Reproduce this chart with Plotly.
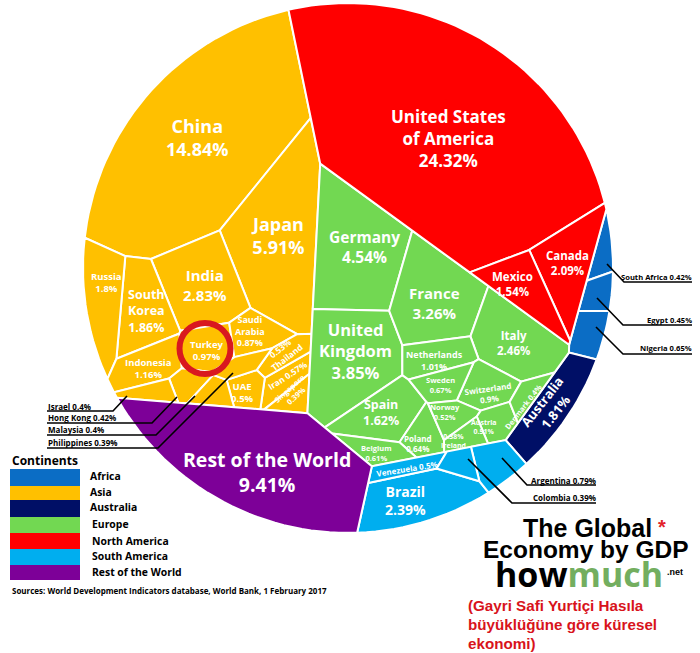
import math
import plotly.graph_objects as go

# ---------- data (share of world GDP, %) ----------
asia_names = ["China","Japan","India","South Korea","Russia","Indonesia","Turkey","Saudi Arabia","Iran","Thailand","UAE","Hong Kong","Israel","Malaysia","Philippines","Singapore"]
asia_values = [14.84,5.91,2.83,1.86,1.8,1.16,0.97,0.87,0.57,0.53,0.5,0.42,0.4,0.4,0.39,0.39]
europe_names = ["Germany","United Kingdom","France","Italy","Spain","Netherlands","Switzerland","Sweden","Poland","Belgium","Norway","Austria","Denmark","Ireland"]
europe_values = [4.54,3.85,3.26,2.46,1.62,1.01,0.9,0.67,0.64,0.61,0.52,0.51,0.4,0.38]
namerica_names = ["United States of America","Canada","Mexico"]
namerica_values = [24.32,2.09,1.54]
samerica_names = ["Brazil","Argentina","Venezuela","Colombia"]
samerica_values = [2.39,0.79,0.5,0.39]
africa_names = ["South Africa","Egypt","Nigeria"]
africa_values = [0.42,0.45,0.65]
australia_names = ["Australia"]
australia_values = [1.81]
rest_names = ["Rest of the World"]
rest_values = [9.41]
continent_names = ["Africa","Asia","Australia","Europe","North America","South America","Rest of the World"]

# ---------- layout hints for the weighted-Voronoi treemap ----------
W, H = 700, 653
CX, CY, R = 348, 268, 265
COLORS = {"Africa":"#0B6DC5","Asia":"#FFC000","Australia":"#000F66","Europe":"#72D852",
          "North America":"#FF0000","South America":"#00AEEF","Rest of the World":"#7D0098"}
continent_sites = {"Africa":(809,250),"Asia":(190,229),"Australia":(755,467),"Europe":(444,242),
                   "North America":(500,165),"South America":(527,666),"Rest of the World":(161,585)}
sites = {
 "China":(175,140),"Japan":(286,230),"India":(223,255),"South Korea":(159,281),"Russia":(113,277),
 "Indonesia":(167,301),"Turkey":(230,297),"Saudi Arabia":(250,294),"Iran":(302,386),"Thailand":(290,365),
 "UAE":(274,382),"Hong Kong":(221,368),"Israel":(187,381),"Malaysia":(245,390),"Philippines":(262,345),"Singapore":(317,405),
 "Germany":(345,250),"United Kingdom":(343,330),"France":(463,284),"Italy":(530,308),"Spain":(405,422),
 "Netherlands":(469,330),"Switzerland":(496,372),"Sweden":(478,364),"Poland":(420,432),"Belgium":(401,453),
 "Norway":(482,405),"Austria":(512,425),"Denmark":(557,407),"Ireland":(500,430),
 "United States of America":(470,170),"Canada":(562,318),"Mexico":(531,332),
 "Brazil":(432,555),"Argentina":(561,451),"Venezuela":(410,450),"Colombia":(455,477),
 "South Africa":(585,268),"Egypt":(597,302),"Nigeria":(597,340),"Australia":(550,410),"Rest of the World":(250,465)}

# label: text, x, y, size, angle
P = lambda n, v: f"{n}<br>{v}%"
val = dict(zip(asia_names+europe_names+namerica_names+samerica_names+africa_names+australia_names+rest_names,
               asia_values+europe_values+namerica_values+samerica_values+africa_values+australia_values+rest_values))
labels = [
 ("United States<br>of America<br>%s%%"%val["United States of America"],448,138,17,0),
 (P("China",val["China"]),197,137,18,0),(P("Japan",val["Japan"]),278,235,18,0),
 (P("Germany",val["Germany"]),364,247,15.5,0),(P("France",val["France"]),434,303,15,0),
 ("United<br>Kingdom<br>%s%%"%val["United Kingdom"],355,351,16.5,0),(P("India",val["India"]),205,285,15,0),
 ("South<br>Korea<br>%s%%"%val["South Korea"],146,311,12.5,0),(P("Russia",val["Russia"]),106,282,9.5,0),
 (P("Indonesia",val["Indonesia"]),148,368,9.5,0),(P("Turkey",val["Turkey"]),207,350,9.5,0),
 ("Saudi<br>Arabia<br>%s%%"%val["Saudi Arabia"],250,331,9,0),
 ("%s%%<br>Thailand"%val["Thailand"],283,353,8.5,-38),("Iran %s%%"%val["Iran"],287,375,8.5,-33),
 (P("Singapore",val["Singapore"]),293,392,7.5,-42),(P("UAE",val["UAE"]),242,392,9.5,0),
 (P("Spain",val["Spain"]),381,412,12.5,0),(P("Italy",val["Italy"]),513,343,11.5,0),
 (P("Netherlands",val["Netherlands"]),434,360,9,0),(P("Sweden",val["Sweden"]),440,385,7.5,0),
 (P("Switzerland",val["Switzerland"]),488,393,8,-8),("Denmark %s%%"%val["Denmark"],523,407,7.5,-52),
 (P("Norway",val["Norway"]),445,412,7.5,0),(P("Austria",val["Austria"]),484,427,7,0),
 ("%s%%<br>Ireland"%val["Ireland"],453,441,7,0),(P("Poland",val["Poland"]),418,443,8,0),
 (P("Belgium",val["Belgium"]),376,453,7.5,0),("Venezuela %s%%"%val["Venezuela"],407,468,8,-9),
 (P("Brazil",val["Brazil"]),405,500,14,0),(P("Australia",val["Australia"]),548,407,13,-52),
 (P("Canada",val["Canada"]),567,263,11.5,0),(P("Mexico",val["Mexico"]),512,284,11.5,0),
 (P("Rest of the World",val["Rest of the World"]),267,472,19.5,0),
]

# ---------- power-diagram solver: cell areas follow the values ----------
def clip(poly, a, b, c):
    out = []
    n = len(poly)
    for k in range(n):
        p, q = poly[k], poly[(k+1) % n]
        fp = a*p[0]+b*p[1]-c
        fq = a*q[0]+b*q[1]-c
        if fp <= 0:
            out.append(p)
        if (fp < 0 < fq) or (fq < 0 < fp):
            t = fp/(fp-fq)
            out.append((p[0]+t*(q[0]-p[0]), p[1]+t*(q[1]-p[1])))
    return out

def area(poly):
    s = 0.0
    for k in range(len(poly)):
        p, q = poly[k], poly[(k+1) % len(poly)]
        s += p[0]*q[1]-q[0]*p[1]
    return abs(s)/2

def cells(region, pts, wts):
    res = []
    for i, si in enumerate(pts):
        poly = region
        for j, sj in enumerate(pts):
            if i == j or not poly:
                continue
            a = 2*(sj[0]-si[0]); b = 2*(sj[1]-si[1])
            c = sj[0]**2+sj[1]**2-si[0]**2-si[1]**2-wts[j]+wts[i]
            poly = clip(poly, a, b, c)
        res.append(poly)
    return res

def solve(region, pts, values, iters=700):
    total = area(region)
    targets = [total*v/sum(values) for v in values]
    wts = [0.0]*len(pts)
    steps = []
    for i, si in enumerate(pts):
        d = min(math.dist(si, sj) for j, sj in enumerate(pts) if j != i)
        steps.append(0.25*d/math.sqrt(targets[i]))
    for _ in range(iters):
        polys = cells(region, pts, wts)
        for i, poly in enumerate(polys):
            wts[i] += steps[i]*(targets[i]-area(poly))
    return cells(region, pts, wts)

circle = [(CX+R*math.cos(2*math.pi*k/180), CY+R*math.sin(2*math.pi*k/180)) for k in range(180)]
groups = {"Africa":(africa_names,africa_values),"Asia":(asia_names,asia_values),
          "Australia":(australia_names,australia_values),"Europe":(europe_names,europe_values),
          "North America":(namerica_names,namerica_values),"South America":(samerica_names,samerica_values),
          "Rest of the World":(rest_names,rest_values)}
top = solve(circle, [continent_sites[c] for c in continent_names],
            [sum(groups[c][1]) for c in continent_names], 800)

fig = go.Figure()
for cname, region in zip(continent_names, top):
    names, values = groups[cname]
    polys = solve(region, [sites[n] for n in names], values) if len(names) > 1 else [region]
    for n, v, poly in zip(names, values, polys):
        if not poly:
            continue
        fig.add_trace(go.Scatter(x=[p[0] for p in poly]+[poly[0][0]], y=[p[1] for p in poly]+[poly[0][1]],
                                 mode="lines", fill="toself", fillcolor=COLORS[cname],
                                 line=dict(color="white", width=2), name=n, text=f"{n} {v}%",
                                 hoverinfo="text", showlegend=False))

SANS = "Open Sans"
ann = []
for t, x, y, s, ang in labels:
    ann.append(dict(text=t, x=x, y=y, xref="x", yref="y", showarrow=False, textangle=ang,
                    font=dict(family=SANS, size=s, color="white", weight=700)))

def note(t, x, y, size=8, anchor="left", color="black", family=SANS, weight=700):
    ann.append(dict(text=t, x=x, y=y, xref="x", yref="y", showarrow=False, xanchor=anchor, yanchor="middle",
                    font=dict(family=family, size=size, color=color, weight=weight)))

left_calls = [("Israel",406,[(127,396),(113,411),(47,411)]),("Hong Kong",417,[(177,397),(152,423),(47,423)]),
              ("Malaysia",429,[(195,396),(156,435),(47,435)]),("Philippines",442,[(233,373),(158,448),(47,448)])]
right_calls = [("South Africa",277,[(607,264),(624,282),(692,282)],694,7.6),("Egypt",320,[(597,298),(623,325),(692,325)],694,7.6),
               ("Nigeria",348,[(596,327),(623,354),(692,354)],694,7.6),("Argentina",480,[(502,458),(527,485),(596,485)],598,8),
               ("Colombia",497,[(468,459),(512,503),(596,503)],598,8)]
for n, y, pts in left_calls:
    note(f"{n} {val[n]}%", 46, y)
    fig.add_trace(go.Scatter(x=[p[0] for p in pts], y=[p[1] for p in pts], mode="lines",
                             line=dict(color="black", width=1.6), hoverinfo="skip", showlegend=False))
for n, y, pts, xr, s in right_calls:
    note(f"{n} {val[n]}%", xr, y, size=s, anchor="right")
    fig.add_trace(go.Scatter(x=[p[0] for p in pts], y=[p[1] for p in pts], mode="lines",
                             line=dict(color="black", width=1.6), hoverinfo="skip", showlegend=False))

shapes = [dict(type="circle", xref="x", yref="y", x0=179.5, x1=230.5, y0=323, y1=374,
               line=dict(color="#D9181F", width=6))]
legend_edges = [469,486,500,517,533,549,565,580]
legend_y = [476,492,507,524,541,556,572]
legend_x = [88,88,88,90,90,90,90]
for i, c in enumerate(continent_names):
    shapes.append(dict(type="rect", xref="x", yref="y", x0=10, x1=80, y0=legend_edges[i], y1=legend_edges[i+1],
                       line=dict(width=0), fillcolor=COLORS[c]))
    note(c, legend_x[i], legend_y[i], size=10.4)
note("Continents", 10, 460, size=12)
note("Sources: World Development Indicators database, World Bank, 1 February 2017", 10, 590, size=8)

note("The Global", 587, 528, size=25, anchor="center", family="Liberation Sans")
note("Economy by GDP", 586, 549, size=24.5, anchor="center", family="Liberation Sans")
note('how<span style="color:#73AE5F">much</span>', 579, 574, size=34, anchor="center", family="Open Sans")
note(".net", 675, 572, size=9, anchor="center", family="Liberation Sans")
note("*", 662, 527, size=20, anchor="center", color="#E2232A", family="Liberation Sans")
red = "#D8131B"
note("(Gayri Safi Yurtiçi Hasıla", 466, 605, size=15.2, color=red, family="Liberation Sans")
note("büyüklüğüne göre küresel", 466, 624, size=15.2, color=red, family="Liberation Sans")
note("ekonomi)", 466, 643, size=15.2, color=red, family="Liberation Sans")

fig.update_layout(width=W, height=H, margin=dict(l=0, r=0, t=0, b=0), paper_bgcolor="white", plot_bgcolor="white",
                  showlegend=False, annotations=ann, shapes=shapes,
                  xaxis=dict(range=[0, W], visible=False, fixedrange=True),
                  yaxis=dict(range=[H, 0], visible=False, fixedrange=True))
fig.write_html("out.html", config={"displayModeBar": False},
               post_script="document.body.style.margin='0';document.body.style.overflow='hidden';")
